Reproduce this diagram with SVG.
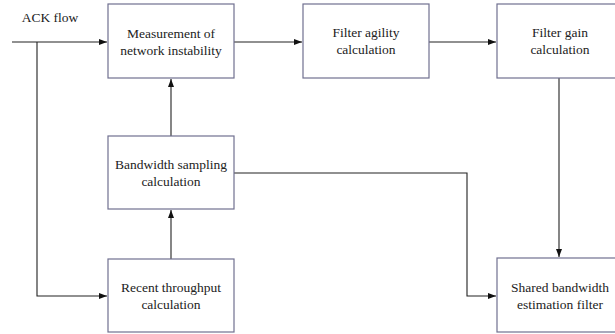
<svg xmlns="http://www.w3.org/2000/svg" width="615" height="334" viewBox="0 0 615 334">
<style>
.box{fill:#fff;stroke:#707090;stroke-width:1.2}
.t{font-family:"Liberation Serif","Times New Roman",serif;font-size:13.5px;fill:#222;text-anchor:middle}
.c{fill:none;stroke:#222;stroke-width:1.1}
</style>
<defs>
<marker id="a" markerWidth="8" markerHeight="6" refX="8" refY="3" orient="auto" markerUnits="userSpaceOnUse">
<path d="M0,0 L8,3 L0,6 Z" fill="#111"/>
</marker>
</defs>
<rect width="615" height="334" fill="#fff"/>
<g id="connectors">
<path class="c" d="M12,42 H107" marker-end="url(#a)"/>
<path class="c" d="M37,42 V296 H107" marker-end="url(#a)"/>
<path class="c" d="M234,42 H302" marker-end="url(#a)"/>
<path class="c" d="M429,42 H496" marker-end="url(#a)"/>
<path class="c" d="M171,136 V79" marker-end="url(#a)"/>
<path class="c" d="M171,259 V210" marker-end="url(#a)"/>
<path class="c" d="M559,78 V257" marker-end="url(#a)"/>
<path class="c" d="M234,173 H467 V296 H496" marker-end="url(#a)"/>
</g>
<g id="ack"><text class="t" x="50" y="22">ACK flow</text></g>
<g id="measure"><rect class="box" x="108" y="4" width="126" height="74"/><text class="t" x="171" y="37.5">Measurement of</text><text class="t" x="171" y="55">network instability</text></g>
<g id="agility"><rect class="box" x="303" y="4" width="126" height="74"/><text class="t" x="366" y="37">Filter agility</text><text class="t" x="366" y="53.5">calculation</text></g>
<g id="gain"><rect class="box" x="497" y="4" width="126" height="74"/><text class="t" x="560" y="37">Filter gain</text><text class="t" x="560" y="53.5">calculation</text></g>
<g id="sampling"><rect class="box" x="108" y="136" width="126" height="73"/><text class="t" x="171" y="169">Bandwidth sampling</text><text class="t" x="171" y="185.5">calculation</text></g>
<g id="throughput"><rect class="box" x="108" y="259" width="126" height="73"/><text class="t" x="171" y="292">Recent throughput</text><text class="t" x="171" y="308.5">calculation</text></g>
<g id="shared"><rect class="box" x="497" y="258" width="126" height="74"/><text class="t" x="560" y="292">Shared bandwidth</text><text class="t" x="560" y="308.5">estimation filter</text></g>
</svg>
